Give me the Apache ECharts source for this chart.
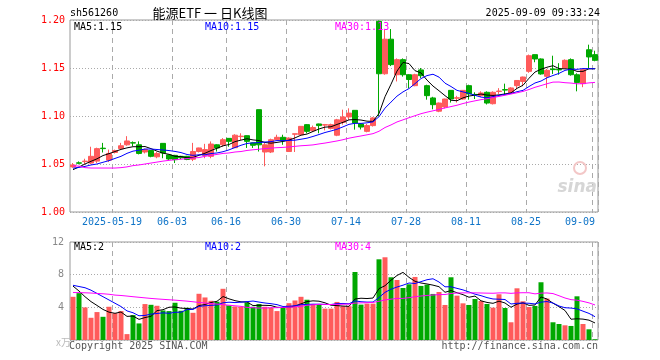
<!DOCTYPE html>
<html><head><meta charset="utf-8">
<script src="https://cdn.jsdelivr.net/npm/echarts@6/dist/echarts.min.js"></script>
<style>html,body{margin:0;padding:0;background:#fff}#c{width:660px;height:360px}</style>
</head><body><div id="c"></div>
<script>
// ---- data ----
const dates = [
'2025-05-08','2025-05-09','2025-05-12','2025-05-13','2025-05-14','2025-05-15','2025-05-16',
'2025-05-19','2025-05-20','2025-05-21','2025-05-22','2025-05-23',
'2025-05-26','2025-05-27','2025-05-28','2025-05-29','2025-05-30',
'2025-06-03','2025-06-04','2025-06-05','2025-06-06',
'2025-06-09','2025-06-10','2025-06-11','2025-06-12','2025-06-13',
'2025-06-16','2025-06-17','2025-06-18','2025-06-19','2025-06-20',
'2025-06-23','2025-06-24','2025-06-25','2025-06-26','2025-06-27',
'2025-06-30','2025-07-01','2025-07-02','2025-07-03','2025-07-04',
'2025-07-07','2025-07-08','2025-07-09','2025-07-10','2025-07-11',
'2025-07-14','2025-07-15','2025-07-16','2025-07-17','2025-07-18',
'2025-07-21','2025-07-22','2025-07-23','2025-07-24','2025-07-25',
'2025-07-28','2025-07-29','2025-07-30','2025-07-31','2025-08-01',
'2025-08-04','2025-08-05','2025-08-06','2025-08-07','2025-08-08',
'2025-08-11','2025-08-12','2025-08-13','2025-08-14','2025-08-15',
'2025-08-18','2025-08-19','2025-08-20','2025-08-21','2025-08-22',
'2025-08-25','2025-08-26','2025-08-27','2025-08-28','2025-08-29',
'2025-09-01','2025-09-02','2025-09-03','2025-09-04','2025-09-05',
'2025-09-08','2025-09-09'];

const opens = [
1.047,1.0512,1.0525,1.051,1.053,1.0665,1.054,1.062,1.066,1.070,
1.0722,1.070,1.0625,1.064,1.0575,1.0715,1.0595,1.059,1.058,1.058,
1.055,1.063,1.059,1.058,1.070,1.070,1.0767,1.067,1.0785,1.0795,
1.072,1.1066,1.0625,1.0625,1.0753,1.0778,1.063,1.081,1.0805,1.091,
1.0847,1.0917,1.0905,1.087,1.080,1.0934,1.099,1.1059,1.0917,1.084,
1.090,1.1986,1.144,1.180,1.143,1.1587,1.143,1.1316,1.148,1.1316,
1.1188,1.105,1.1094,1.1267,1.1185,1.1177,1.1316,1.1225,1.1212,1.1247,
1.1128,1.1255,1.1275,1.124,1.1316,1.136,1.1465,1.1639,1.1594,1.1413,
1.149,1.1485,1.150,1.1587,1.143,1.1337,1.169,1.1639];

const closes = [
1.049,1.0508,1.053,1.058,1.066,1.066,1.061,1.064,1.069,1.074,
1.0718,1.061,1.065,1.058,1.061,1.0615,1.0552,1.0545,1.0565,1.0547,
1.063,1.0667,1.065,1.0708,1.0667,1.0753,1.0736,1.080,1.079,1.0736,
1.0695,1.070,1.070,1.0753,1.0778,1.0743,1.077,1.0815,1.0892,1.084,
1.088,1.090,1.091,1.091,1.096,1.099,1.103,1.0927,1.0885,1.090,
1.098,1.144,1.180,1.1535,1.1587,1.143,1.138,1.143,1.142,1.1212,
1.1118,1.1135,1.1177,1.1177,1.119,1.1267,1.123,1.122,1.124,1.1135,
1.1247,1.126,1.127,1.1292,1.137,1.1406,1.1628,1.1594,1.1438,1.1476,
1.1483,1.148,1.158,1.143,1.135,1.1483,1.1615,1.158];

const lows = [
1.046,1.0497,1.050,1.050,1.051,1.062,1.052,1.061,1.065,1.069,
1.0685,1.060,1.061,1.057,1.056,1.056,1.054,1.051,1.055,1.054,
1.053,1.062,1.056,1.056,1.063,1.068,1.068,1.0667,1.075,1.0667,
1.0667,1.063,1.0476,1.0614,1.075,1.070,1.0625,1.0625,1.080,1.082,
1.0835,1.082,1.085,1.086,1.079,1.091,1.096,1.0858,1.086,1.083,
1.089,1.0997,1.143,1.152,1.136,1.141,1.129,1.131,1.1396,1.117,
1.107,1.104,1.108,1.114,1.114,1.117,1.117,1.1177,1.1198,1.112,
1.112,1.123,1.122,1.123,1.128,1.131,1.145,1.156,1.143,1.129,
1.1438,1.143,1.1497,1.142,1.1257,1.130,1.150,1.157];

const highs = [
1.051,1.0527,1.0555,1.068,1.067,1.072,1.065,1.065,1.072,1.079,
1.0735,1.0736,1.066,1.0645,1.0625,1.0715,1.0598,1.0595,1.0585,1.0585,
1.072,1.067,1.071,1.0735,1.0705,1.077,1.0768,1.081,1.082,1.0797,
1.0722,1.1066,1.072,1.0764,1.0805,1.0805,1.0778,1.0815,1.0895,1.0915,
1.090,1.092,1.0917,1.092,1.097,1.1066,1.108,1.106,1.092,1.0917,
1.099,1.1995,1.190,1.1906,1.160,1.160,1.1435,1.144,1.150,1.1326,
1.120,1.114,1.118,1.127,1.121,1.127,1.1326,1.1247,1.1257,1.1257,
1.1257,1.129,1.1337,1.130,1.1375,1.141,1.164,1.164,1.160,1.149,
1.1628,1.155,1.159,1.160,1.1445,1.149,1.1743,1.168];

const volumes = [
5.29,5.74,3.99,2.72,3.42,2.84,4.07,3.29,3.54,0.72,
3.05,2.03,4.40,4.31,4.19,3.62,3.54,4.56,3.58,3.95,
3.33,5.66,5.21,4.80,4.68,6.27,4.23,4.11,4.07,4.60,
4.07,4.40,4.07,3.95,3.54,3.95,4.51,4.84,5.29,4.93,
4.40,4.30,3.84,3.84,4.66,4.13,4.13,8.33,4.33,4.45,
4.45,9.88,10.13,7.68,7.35,6.37,6.82,7.72,6.62,6.78,
5.64,5.88,4.29,7.68,5.43,4.49,4.29,5.02,4.78,4.41,
3.96,5.60,3.92,2.17,6.33,4.74,4.04,4.17,7.07,5.07,
2.17,1.96,1.80,1.72,5.35,1.96,1.31,0.09];

// moving-average values at the left edge (their windows start before the chart)
const ma5Head  = [1.0441,1.0469,1.050,1.0528];
const ma10Head = [1.0456,1.0465,1.0475,1.049,1.050,1.0518,1.0535,1.0558,1.058];
const ma30Head = [1.0482,1.0478,1.0462,1.0458,1.0458,1.0458,1.0458,1.0458,1.0462,1.047,
                  1.0483,1.049,1.050,1.051,1.052,1.053,1.0538,1.0545,1.055,1.0556,
                  1.0563,1.0567,1.058,1.059,1.060,1.061,1.0615,1.0625,1.063];
const vma5Head  = [6.6,6.0,5.3,4.7];
const vma10Head = [6.7,6.55,6.4,6.1,5.7,5.3,4.9,4.5,4.1];
const vma30Head = [5.82,5.8,5.78,5.75,5.7,5.66,5.6,5.5,5.45,5.38,
                   5.3,5.23,5.16,5.09,5.03,4.98,4.93,4.88,4.82,4.76,
                   4.68,4.6,4.53,4.47,4.4,4.33,4.26,4.19,4.12];

const priceTicks = [1.00,1.05,1.10,1.15,1.20];
const volTicks = [0,4,8,12];
const labelIdx = [7,17,26,36,46,56,66,76,87];

// ---- build ----
function movingAvg(src, n, head){
  return src.map((_, i) => {
    if (i < n - 1) return head[i];
    let s = 0; for (let k = i - n + 1; k <= i; k++) s += src[k];
    return +(s / n).toFixed(4);
  });
}
const UP = '#ff5b5b', DOWN = '#00a800';
const candle = dates.map((d, i) => [opens[i], closes[i], lows[i], highs[i]]);
const volData = volumes.map((v, i) => ({ value: v, itemStyle: { color: closes[i] >= opens[i] ? UP : DOWN } }));
const MONO = '"DejaVu Sans Mono", monospace';
const gridLine = { color: '#aaa', type: [5, 4], width: 1 };
const dotLine = { color: '#aaa', type: [1, 2], width: 1 };

const chart = echarts.init(document.getElementById('c'), null, { renderer: 'canvas' });
function lineSeries(name, data, color, xi, yi){
  return { name, type: 'line', data, xAxisIndex: xi, yAxisIndex: yi, symbol: 'none', smooth: false,
    lineStyle: { color, width: 1 }, z: 5, silent: true, animation: false };
}
chart.setOption({
  animation: false,
  backgroundColor: '#fff',
  grid: [
    { left: 70, top: 20, width: 528, height: 192, show: true, borderColor: '#999', borderWidth: 1, backgroundColor: 'transparent' },
    { left: 70, top: 242, width: 528, height: 98, show: true, borderColor: '#999', borderWidth: 1, backgroundColor: 'transparent' }
  ],
  xAxis: [
    { type: 'category', gridIndex: 0, data: dates, boundaryGap: true,
      axisLine: { show: false }, axisTick: { show: false },
      splitLine: { show: true, interval: (i) => labelIdx.includes(i), lineStyle: gridLine },
      axisLabel: { show: true, interval: (i) => labelIdx.includes(i), margin: 5, alignMaxLabel: 'right',
        formatter: (v, i) => (i === 87 ? '{b|' : '{a|') + (i === 7 ? v : v.slice(5)) + '}',
        rich: { a: { padding: [0, 6, 0, 0], color: '#0f74c8', fontFamily: MONO, fontSize: 10 },
                b: { color: '#0f74c8', fontFamily: MONO, fontSize: 10 } } } },
    { type: 'category', gridIndex: 1, data: dates, boundaryGap: true,
      axisLine: { show: false }, axisTick: { show: false }, axisLabel: { show: false },
      splitLine: { show: true, interval: (i) => labelIdx.includes(i), lineStyle: gridLine } }
  ],
  yAxis: [
    { type: 'value', gridIndex: 0, min: priceTicks[0], max: priceTicks[priceTicks.length - 1], interval: 0.05,
      axisLine: { show: false }, axisTick: { show: false },
      splitLine: { show: true, lineStyle: dotLine },
      axisLabel: { color: '#f00', fontFamily: MONO, fontSize: 10, margin: 5, formatter: v => v.toFixed(2) } },
    { type: 'value', gridIndex: 1, min: volTicks[0], max: volTicks[volTicks.length - 1], interval: 4,
      axisLine: { show: false }, axisTick: { show: false },
      splitLine: { show: true, lineStyle: dotLine },
      axisLabel: { color: '#888', fontFamily: MONO, fontSize: 10, margin: 6, formatter: v => v === 0 ? '' : String(v) } }
  ],
  series: [
    { type: 'candlestick', xAxisIndex: 0, yAxisIndex: 0, data: candle, barWidth: 5, z: 3,
      itemStyle: { color: UP, color0: DOWN, borderColor: UP, borderColor0: DOWN, borderWidth: 1 } },
    lineSeries('MA5', movingAvg(closes, 5, ma5Head), '#000', 0, 0),
    lineSeries('MA10', movingAvg(closes, 10, ma10Head), '#0000ff', 0, 0),
    lineSeries('MA30', movingAvg(closes, 30, ma30Head), '#ff00ff', 0, 0),
    { type: 'bar', xAxisIndex: 1, yAxisIndex: 1, data: volData, barWidth: 5, z: 3 },
    lineSeries('VMA5', movingAvg(volumes, 5, vma5Head), '#000', 1, 1),
    lineSeries('VMA10', movingAvg(volumes, 10, vma10Head), '#0000ff', 1, 1),
    lineSeries('VMA30', movingAvg(volumes, 30, vma30Head), '#ff00ff', 1, 1)
  ],
  graphic: [
    { type: 'text', x: 70, y: 13, style: { text: 'sh561260', font: '10px ' + MONO, fill: '#000', verticalAlign: 'middle' } },
    { type: 'text', x: 210, y: 13, style: { text: '能源ETF 一 日K线图', font: '13px "Noto Sans CJK SC"', fill: '#000', align: 'center', verticalAlign: 'middle' } },
    { type: 'text', x: 600, y: 13, style: { text: '2025-09-09 09:33:24', font: '10px ' + MONO, fill: '#000', align: 'right', verticalAlign: 'middle' } },
    { type: 'text', x: 74, y: 27, z: 10, style: { text: 'MA5:1.15', font: '10px ' + MONO, fill: '#000', verticalAlign: 'middle' } },
    { type: 'text', x: 205, y: 27, z: 10, style: { text: 'MA10:1.15', font: '10px ' + MONO, fill: '#0000ff', verticalAlign: 'middle' } },
    { type: 'text', x: 335, y: 27, z: 10, style: { text: 'MA30:1.13', font: '10px ' + MONO, fill: '#ff00ff', verticalAlign: 'middle' } },
    { type: 'text', x: 74, y: 247, z: 10, style: { text: 'MA5:2', font: '10px ' + MONO, fill: '#000', verticalAlign: 'middle' } },
    { type: 'text', x: 205, y: 247, z: 10, style: { text: 'MA10:2', font: '10px ' + MONO, fill: '#0000ff', verticalAlign: 'middle' } },
    { type: 'text', x: 335, y: 247, z: 10, style: { text: 'MA30:4', font: '10px ' + MONO, fill: '#ff00ff', verticalAlign: 'middle' } },
    { type: 'text', x: 69, y: 346, style: { text: 'Copyright 2025 SINA.COM', font: '10px ' + MONO, fill: '#555', verticalAlign: 'middle' } },
    { type: 'text', x: 598, y: 346, style: { text: 'http://finance.sina.com.cn', font: '10px ' + MONO, fill: '#555', align: 'right', verticalAlign: 'middle' } },
    { type: 'text', x: 56, y: 342, style: { text: 'x万', font: '10px "Noto Sans CJK SC"', fill: '#bbb', verticalAlign: 'middle' } },
    { type: 'circle', shape: { cx: 580, cy: 168, r: 6 }, style: { fill: 'none', stroke: '#f3c7c7', lineWidth: 2 }, z: 1 },
    { type: 'text', x: 597, y: 188, z: 1, style: { text: 'sina', font: 'italic bold 17px "DejaVu Sans"', fill: '#d6d6d6', align: 'right', verticalAlign: 'middle' } }
  ]
});
</script>
</body></html>
